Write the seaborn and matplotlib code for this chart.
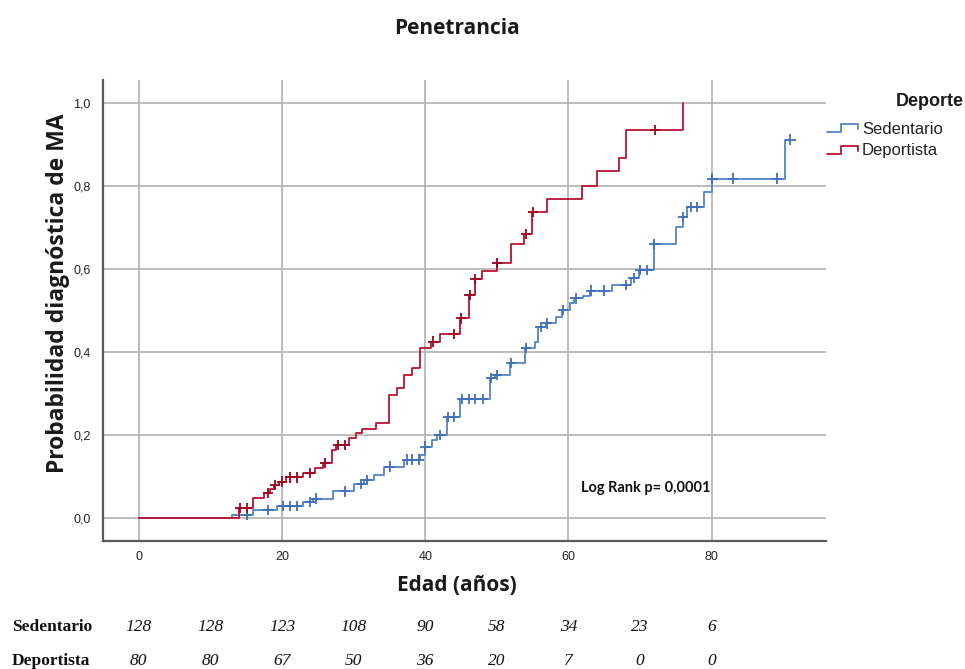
import numpy as np
import pandas as pd
import matplotlib
matplotlib.use("Agg")
import matplotlib.pyplot as plt
from matplotlib.lines import Line2D
from matplotlib.legend_handler import HandlerBase
from matplotlib.ticker import FuncFormatter
import matplotlib.transforms as mtransforms
import seaborn as sns

# ---- Kaplan-Meier style cumulative incidence (1 - S(t)) per group ----
groups = ["Sedentario", "Deportista"]

sed_event_age = [13.0, 16.0, 19.3, 22.9, 24.3, 27.1, 30.0, 31.4, 32.8, 34.3,
                 37.0, 39.3, 40.0, 40.9, 41.6, 43.0, 44.9, 49.0, 49.7, 51.9,
                 54.0, 55.3, 55.8, 56.8, 58.2, 59.1, 60.2, 60.8, 62.0, 63.0,
                 66.1, 68.7, 69.8, 72.0, 75.0, 76.0, 76.6, 78.9, 80.1, 90.2]
sed_event_prob = [0.008, 0.019, 0.029, 0.039, 0.047, 0.064, 0.082, 0.092, 0.103, 0.124,
                  0.141, 0.152, 0.172, 0.188, 0.200, 0.244, 0.287, 0.337, 0.345, 0.373,
                  0.409, 0.425, 0.461, 0.469, 0.485, 0.501, 0.517, 0.529, 0.535, 0.548,
                  0.561, 0.578, 0.598, 0.660, 0.702, 0.726, 0.750, 0.785, 0.818, 0.912]
sed_censor_age = [15.1, 18.1, 20.1, 21.1, 22.1, 23.9, 24.8, 28.8, 31.0, 31.8,
                  35.1, 37.5, 38.1, 39.1, 40.0, 42.0, 43.2, 44.0, 45.1, 46.1,
                  47.0, 48.1, 49.2, 50.0, 52.0, 54.1, 56.1, 57.0, 59.2, 61.0,
                  63.1, 64.9, 68.0, 69.1, 70.0, 71.0, 72.0, 76.0, 77.1, 78.0,
                  80.1, 83.0, 89.1, 91.0]
sed_last_age = 91.0

dep_event_age = [14.0, 15.9, 17.5, 18.3, 18.9, 19.6, 20.6, 22.9, 24.6, 25.7,
                 27.0, 27.6, 29.4, 30.3, 31.2, 33.1, 35.0, 36.0, 37.1, 38.1,
                 39.2, 40.8, 42.1, 44.8, 46.1, 46.9, 47.9, 50.0, 52.0, 53.8,
                 54.9, 57.0, 61.9, 64.0, 67.0, 68.1, 76.0]
dep_event_prob = [0.024, 0.048, 0.060, 0.070, 0.079, 0.088, 0.098, 0.109, 0.121, 0.133,
                  0.164, 0.176, 0.192, 0.204, 0.214, 0.228, 0.296, 0.313, 0.345, 0.361,
                  0.409, 0.425, 0.444, 0.481, 0.537, 0.576, 0.596, 0.614, 0.660, 0.684,
                  0.737, 0.769, 0.801, 0.836, 0.867, 0.935, 1.000]
dep_censor_age = [14.2, 15.1, 18.0, 19.0, 20.0, 21.1, 22.1, 23.9, 26.0, 27.8,
                  28.8, 41.1, 44.0, 45.0, 46.2, 47.0, 50.0, 54.1, 55.0, 72.1]
dep_last_age = 76.0

# number at risk table
risk_ages = [0, 10, 20, 30, 40, 50, 60, 70, 80]
risk_sed = [128, 128, 123, 108, 90, 58, 34, 23, 6]
risk_dep = [80, 80, 67, 50, 36, 20, 7, 0, 0]

x_ticks = [0, 20, 40, 60, 80]
y_ticks = [0.0, 0.2, 0.4, 0.6, 0.8, 1.0]

line_colors = {"Sedentario": "#5086c8", "Deportista": "#b8122f"}
mark_colors = {"Sedentario": "#3f70b6", "Deportista": "#a0001c"}


def step_frame(name, ages, probs, last):
    t = [0.0] + list(ages)
    p = [0.0] + list(probs)
    if last > ages[-1]:
        t.append(last)
        p.append(probs[-1])
    return pd.DataFrame({"edad": t, "prob": p, "grupo": name})


def censor_frame(name, ages, probs, cens):
    ages = np.asarray(ages)
    idx = np.searchsorted(ages, np.asarray(cens), side="right") - 1
    vals = [probs[i] if i >= 0 else 0.0 for i in idx]
    return pd.DataFrame({"edad": cens, "prob": vals, "grupo": name})


curves = pd.concat([
    step_frame("Sedentario", sed_event_age, sed_event_prob, sed_last_age),
    step_frame("Deportista", dep_event_age, dep_event_prob, dep_last_age),
], ignore_index=True)
censored = pd.concat([
    censor_frame("Sedentario", sed_event_age, sed_event_prob, sed_censor_age),
    censor_frame("Deportista", dep_event_age, dep_event_prob, dep_censor_age),
], ignore_index=True)

sns.set_theme(style="whitegrid")
plt.rcParams["font.family"] = ["Liberation Sans", "DejaVu Sans"]

fig = plt.figure(figsize=(9.65, 6.69), dpi=100)
ax = fig.add_axes([0.1067, 0.1913, 0.7488, 0.6891])
ax.set_facecolor("white")

sns.lineplot(data=curves, x="edad", y="prob", hue="grupo", hue_order=groups,
             palette=line_colors, drawstyle="steps-post", estimator=None,
             linewidth=1.3, legend=False, ax=ax)
sns.scatterplot(data=censored, x="edad", y="prob", hue="grupo", hue_order=groups,
                palette=mark_colors, marker="+", s=55, linewidth=1.3,
                legend=False, ax=ax, zorder=4)

ax.set_xlim(-5.0, 95.9)
ax.set_ylim(-0.0554, 1.0554)
ax.set_xticks(x_ticks)
ax.set_yticks(y_ticks)
ax.yaxis.set_major_formatter(FuncFormatter(lambda v, _: f"{v:.1f}".replace(".", ",")))
ax.grid(True, color="#b2b2b2", linewidth=1.2)
ax.tick_params(axis="both", labelsize=9, colors="#222222", length=3, width=1,
               direction="out", pad=6)
ax.tick_params(axis="x", pad=4)
for side in ("top", "right"):
    ax.spines[side].set_visible(False)
for side in ("left", "bottom"):
    ax.spines[side].set_color("#5a5a5a")
    ax.spines[side].set_linewidth(1.6)

ax.set_xlabel("")
ax.set_ylabel("Probabilidad diagnóstica de MA", family="Open Sans", fontweight="bold",
              fontsize=16.5, color="#1a1a1a")
ax.yaxis.set_label_coords(-0.045, 0.538)

fig.text(0.4736, 0.958, "Penetrancia", family="Open Sans", fontweight="bold",
         fontsize=15, ha="center", va="center", color="#1a1a1a")
fig.text(0.4736, 0.125, "Edad (años)", family="Open Sans", fontweight="bold",
         fontsize=15, ha="center", va="center", color="#1a1a1a")

ax.text(0.662, 0.115, "Log Rank p= 0,0001", transform=ax.transAxes, family="Lato",
        fontweight="bold", fontsize=10.5, ha="left", va="center", color="#111111")


# step-shaped legend keys
class StepHandler(HandlerBase):
    def create_artists(self, legend, orig_handle, xdescent, ydescent, width,
                       height, fontsize, trans):
        x0, w = -xdescent, width
        y_lo = -ydescent + 0.12 * height
        y_hi = -ydescent + 0.85 * height
        xs = [x0, x0 + 0.45 * w, x0 + 0.45 * w, x0 + w, x0 + w]
        ys = [y_lo, y_lo, y_hi, y_hi, y_lo + 0.25 * height]
        ln = Line2D(xs, ys, color=orig_handle.get_color(), linewidth=1.3)
        ln.set_transform(trans)
        return [ln]


handles = [Line2D([], [], color=line_colors[g]) for g in groups]
leg = fig.legend(handles, groups, loc="upper left", bbox_to_anchor=(0.857, 0.818),
                 bbox_transform=fig.transFigure, frameon=False, fontsize=12,
                 handlelength=1.85, handletextpad=0.25, labelspacing=0.4,
                 borderpad=0, borderaxespad=0,
                 handler_map={Line2D: StepHandler()})
for t in leg.get_texts():
    t.set_color("#222222")
fig.text(0.999, 0.849, "Deporte", fontweight="bold", fontsize=13, ha="right",
         va="center", color="#1a1a1a")

# number at risk rows
row_y = [0.063, 0.012]
blend = mtransforms.blended_transform_factory(ax.transData, fig.transFigure)
for name, counts, y in zip(groups, [risk_sed, risk_dep], row_y):
    fig.text(0.012, y, name, family="Liberation Serif", fontweight="bold",
             fontsize=12.5, ha="left", va="center", color="#111111")
    for a, n in zip(risk_ages, counts):
        ax.text(a, y, str(n), transform=blend, family="Liberation Serif",
                style="italic", fontsize=12.5, ha="center", va="center",
                color="#111111", clip_on=False)

fig.savefig("out.png", dpi=100, facecolor="white")
